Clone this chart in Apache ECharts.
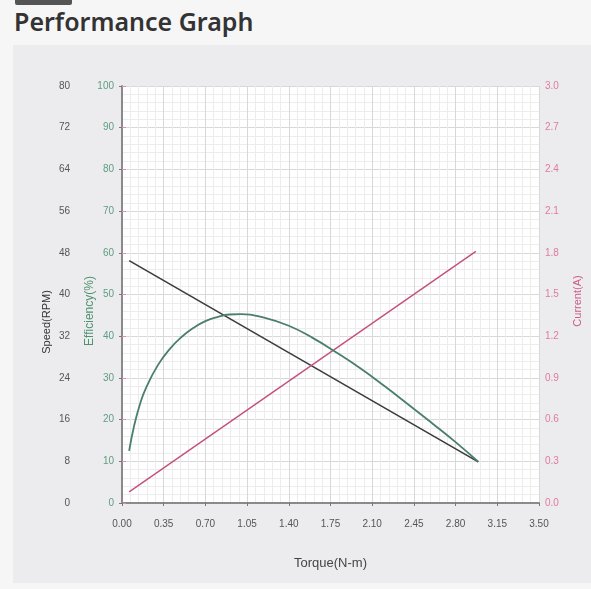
<!DOCTYPE html>
<html>
<head>
<meta charset="utf-8">
<script src="https://cdn.jsdelivr.net/npm/echarts@6/dist/echarts.min.js"></script>
<style>
  html, body { margin: 0; padding: 0; width: 591px; height: 589px; background: #f6f6f7; overflow: hidden; }
  #bar { position: absolute; left: 15px; top: 0; width: 57px; height: 5px; background: #555; border-radius: 0 0 2px 2px; }
  #title { position: absolute; left: 14px; top: 4px; font-family: "Noto Sans", sans-serif; font-weight: 600; font-size: 25px; line-height: 34px; color: #333; }
  #panel { position: absolute; left: 13px; top: 45px; width: 578px; height: 538px; background: #ececef; }
  #chart { position: absolute; left: 0; top: 0; width: 591px; height: 589px; }
</style>
</head>
<body>
<div id="bar"></div>
<div id="title">Performance Graph</div>
<div id="panel"></div>
<div id="chart"></div>
<script>
// ---- data ----
const torqueTicks = ['0.00','0.35','0.70','1.05','1.40','1.75','2.10','2.45','2.80','3.15','3.50'];
const speedLine = [[0.06, 46.5], [2.99, 7.9]];            // Speed (RPM)
const currentLine = [[0.06, 0.08], [2.97, 1.81]];         // Current (A)
const effTorque = [0.06, 0.10, 0.15, 0.20, 0.30, 0.40, 0.50, 0.60, 0.70, 0.80, 0.90, 1.00, 1.20, 1.40, 1.60, 1.80, 2.00, 2.20, 2.40, 2.60, 2.80, 2.99];
const effValues = [12.5, 18.3, 23.6, 27.5, 33.0, 36.9, 39.8, 42.0, 43.6, 44.6, 45.2, 45.3, 44.4, 42.5, 39.6, 36.1, 32.3, 28.1, 23.7, 19.2, 14.6, 9.9];

const FONT = '"Liberation Sans", Arial, sans-serif';
const chart = echarts.init(document.getElementById('chart'));
const lblBase = { fontFamily: FONT, fontSize: 10 };

chart.setOption({
  animation: false,
  grid: { left: 122, right: 52, top: 86, bottom: 86, show: true, backgroundColor: '#ffffff', borderWidth: 0 },
  xAxis: [
    {
      type: 'value', min: 0, max: 3.5, interval: 0.35,
      axisLine: { show: true, onZero: false, lineStyle: { color: '#8a8a8a', width: 2 } },
      axisTick: { show: false }, axisLabel: { show: false },
      splitLine: { show: true, lineStyle: { color: '#d8d8d8', width: 1 } },
      minorTick: { show: false, splitNumber: 5 },
      minorSplitLine: { show: true, lineStyle: { color: '#ececec', width: 1 } }
    },
    {
      type: 'value', min: 0, max: 3.5, interval: 0.35, position: 'bottom', offset: 5,
      axisLine: { show: false },
      axisTick: { show: true, length: 3, lineStyle: { color: '#777' } },
      axisLabel: Object.assign({ color: '#555', margin: 11, formatter: (v) => torqueTicks[Math.round(v / 0.35)] }, lblBase),
      splitLine: { show: false },
      name: 'Torque(N-m)', nameLocation: 'middle', nameGap: 49,
      nameTextStyle: { fontFamily: FONT, fontSize: 13, color: '#444' }
    }
  ],
  yAxis: [
    {
      type: 'value', min: 0, max: 100, interval: 10, position: 'left', offset: 0,
      axisLine: { show: true, onZero: false, lineStyle: { color: '#8a8a8a', width: 2 } },
      axisTick: { show: true, length: 3, lineStyle: { color: '#6aa88a' } },
      axisLabel: Object.assign({ color: '#5e9e80', margin: 8 }, lblBase),
      splitLine: { show: true, lineStyle: { color: '#d8d8d8', width: 1 } },
      minorTick: { show: false, splitNumber: 5 },
      minorSplitLine: { show: true, lineStyle: { color: '#ececec', width: 1 } }
    },
    {
      type: 'value', min: 0, max: 80, interval: 8, position: 'left', offset: 46,
      axisLine: { show: false },
      axisTick: { show: true, length: 3, lineStyle: { color: '#777' } },
      axisLabel: Object.assign({ color: '#555', margin: 6 }, lblBase),
      splitLine: { show: false }
    },
    {
      type: 'value', min: 0, max: 3, interval: 0.3, position: 'right', offset: 0,
      axisLine: { show: false },
      axisTick: { show: true, length: 4, lineStyle: { color: '#e58aab' } },
      axisLabel: Object.assign({ color: '#e07aa0', margin: 6, formatter: (v) => v.toFixed(1) }, lblBase),
      splitLine: { show: false }
    }
  ],
  graphic: [
    { type: 'text', x: 47, y: 322, rotation: Math.PI / 2,
      style: { text: 'Speed(RPM)', fill: '#333', font: '11px ' + FONT, align: 'center', verticalAlign: 'middle' } },
    { type: 'text', x: 90, y: 311, rotation: Math.PI / 2,
      style: { text: 'Efficiency(%)', fill: '#4f9270', font: '12px ' + FONT, align: 'center', verticalAlign: 'middle' } },
    { type: 'text', x: 578, y: 301, rotation: Math.PI / 2,
      style: { text: 'Current(A)', fill: '#cf5a88', font: '11px ' + FONT, align: 'center', verticalAlign: 'middle' } }
  ],
  series: [
    {
      name: 'Speed', type: 'line', xAxisIndex: 0, yAxisIndex: 1, data: speedLine,
      symbol: 'none', lineStyle: { color: '#3c3c3c', width: 1.6 }
    },
    {
      name: 'Current', type: 'line', xAxisIndex: 0, yAxisIndex: 2, data: currentLine,
      symbol: 'none', lineStyle: { color: '#c4507f', width: 1.4 }
    },
    {
      name: 'Efficiency', type: 'line', xAxisIndex: 0, yAxisIndex: 0,
      data: effTorque.map((t, i) => [t, effValues[i]]),
      smooth: 0.5, symbol: 'none', lineStyle: { color: '#4a7e6d', width: 1.8 }
    }
  ]
});
</script>
</body>
</html>
